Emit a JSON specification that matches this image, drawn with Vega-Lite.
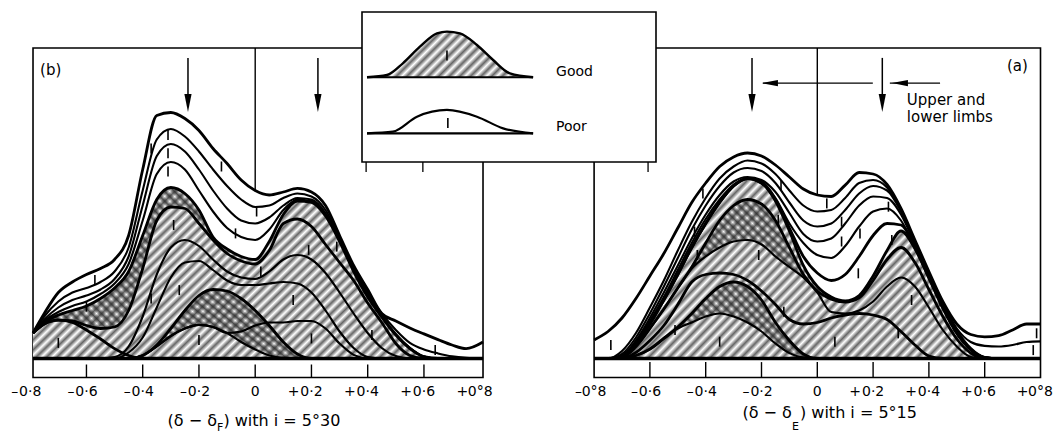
{
"$schema":"https://vega.github.io/schema/vega-lite/v6.json",
"width":1055,"height":435,"autosize":{"type":"none"},"padding":0,"background":"white",
"config":{"view":{"stroke":null},"font":"DejaVu Sans","text":{"font":"DejaVu Sans","color":"black"}},
"resolve":{"scale":{"x":"independent","y":"independent"}},
"datasets":{
"L":[
{"x":-0.79,"T":0.85,"P1":0.85,"P2":0.85,"P3":0.85,"H":0.85,"CB":0.85,"h1":0.85,"M1":0,"M2":0,"h3":0,"h2":0,"R4":0},
{"x":-0.75,"T":1.5,"P1":1.4,"P2":1.3,"P3":1.25,"H":1.2,"CB":1.15,"h1":1.15,"M1":0,"M2":0,"h3":0,"h2":0,"R4":0},
{"x":-0.7,"T":2.2,"P1":1.9,"P2":1.7,"P3":1.55,"H":1.45,"CB":1.28,"h1":1.28,"M1":0,"M2":0,"h3":0,"h2":0,"R4":0},
{"x":-0.65,"T":2.55,"P1":2.2,"P2":1.95,"P3":1.75,"H":1.6,"CB":1.25,"h1":1.2,"M1":0,"M2":0,"h3":0,"h2":0,"R4":0},
{"x":-0.6,"T":2.8,"P1":2.35,"P2":2.1,"P3":1.9,"H":1.75,"CB":1.1,"h1":0.95,"M1":0,"M2":0,"h3":0,"h2":0,"R4":0},
{"x":-0.55,"T":3.0,"P1":2.55,"P2":2.3,"P3":2.15,"H":2.0,"CB":1.0,"h1":0.65,"M1":0,"M2":0,"h3":0,"h2":0,"R4":0},
{"x":-0.5,"T":3.3,"P1":2.9,"P2":2.65,"P3":2.5,"H":2.35,"CB":1.05,"h1":0.33,"M1":0.05,"M2":0,"h3":0,"h2":0,"R4":0},
{"x":-0.45,"T":4.1,"P1":3.7,"P2":3.4,"P3":3.15,"H":2.9,"CB":1.6,"h1":0.1,"M1":0.4,"M2":0.2,"h3":0,"h2":0,"R4":0},
{"x":-0.4,"T":6.3,"P1":5.6,"P2":5.1,"P3":4.6,"H":4.1,"CB":3.0,"h1":0,"M1":1.4,"M2":0.7,"h3":0.1,"h2":0.1,"R4":0.1},
{"x":-0.35,"T":8.1,"P1":7.3,"P2":6.75,"P3":6.15,"H":5.3,"CB":4.6,"h1":0,"M1":2.8,"M2":1.7,"h3":0.45,"h2":0.4,"R4":0.4},
{"x":-0.3,"T":8.2,"P1":7.65,"P2":7.15,"P3":6.55,"H":5.7,"CB":5.05,"h1":0,"M1":3.7,"M2":2.7,"h3":1.0,"h2":0.75,"R4":0.75},
{"x":-0.25,"T":8.0,"P1":7.4,"P2":6.9,"P3":6.3,"H":5.5,"CB":5.0,"h1":0,"M1":3.95,"M2":3.2,"h3":1.6,"h2":1.0,"R4":1.0},
{"x":-0.2,"T":7.6,"P1":6.9,"P2":6.3,"P3":5.6,"H":4.95,"CB":4.5,"h1":0,"M1":3.75,"M2":3.25,"h3":2.1,"h2":1.12,"R4":1.12},
{"x":-0.15,"T":7.0,"P1":6.3,"P2":5.6,"P3":4.9,"H":4.05,"CB":3.95,"h1":0,"M1":3.3,"M2":2.95,"h3":2.3,"h2":1.05,"R4":1.05},
{"x":-0.1,"T":6.5,"P1":5.75,"P2":5.0,"P3":4.35,"H":3.65,"CB":3.5,"h1":0,"M1":2.9,"M2":2.6,"h3":2.25,"h2":0.85,"R4":0.85},
{"x":-0.05,"T":5.95,"P1":5.3,"P2":4.6,"P3":4.05,"H":3.4,"CB":3.25,"h1":0,"M1":2.7,"M2":2.45,"h3":2.0,"h2":0.55,"R4":0.9},
{"x":0,"T":5.6,"P1":5.05,"P2":4.5,"P3":3.95,"H":3.3,"CB":3.15,"h1":0,"M1":2.65,"M2":2.45,"h3":1.6,"h2":0.3,"R4":1.1},
{"x":0.05,"T":5.45,"P1":5.1,"P2":4.7,"P3":4.3,"H":3.9,"CB":3.6,"h1":0,"M1":2.9,"M2":2.5,"h3":1.1,"h2":0.1,"R4":1.2},
{"x":0.1,"T":5.55,"P1":5.35,"P2":5.1,"P3":4.95,"H":4.8,"CB":4.5,"h1":0,"M1":3.3,"M2":2.55,"h3":0.55,"h2":0.02,"R4":1.2},
{"x":0.15,"T":5.67,"P1":5.5,"P2":5.35,"P3":5.3,"H":5.25,"CB":4.65,"h1":0,"M1":3.45,"M2":2.5,"h3":0.15,"h2":0,"R4":1.25},
{"x":0.2,"T":5.55,"P1":5.4,"P2":5.3,"P3":5.25,"H":5.2,"CB":4.4,"h1":0,"M1":3.3,"M2":2.2,"h3":0,"h2":0,"R4":1.25},
{"x":0.25,"T":5.1,"P1":4.95,"P2":4.85,"P3":4.8,"H":4.75,"CB":3.8,"h1":0,"M1":2.85,"M2":1.6,"h3":0,"h2":0,"R4":1.0},
{"x":0.3,"T":4.1,"P1":4.0,"P2":3.95,"P3":3.93,"H":3.9,"CB":3.2,"h1":0,"M1":2.2,"M2":0.9,"h3":0,"h2":0,"R4":0.5},
{"x":0.35,"T":3.1,"P1":3.0,"P2":2.95,"P3":2.95,"H":2.9,"CB":2.6,"h1":0,"M1":1.5,"M2":0.35,"h3":0,"h2":0,"R4":0.12},
{"x":0.4,"T":2.3,"P1":2.2,"P2":2.12,"P3":2.1,"H":2.05,"CB":1.85,"h1":0,"M1":0.85,"M2":0.05,"h3":0,"h2":0,"R4":0},
{"x":0.45,"T":1.5,"P1":1.5,"P2":1.42,"P3":1.4,"H":1.38,"CB":1.2,"h1":0,"M1":0.35,"M2":0,"h3":0,"h2":0,"R4":0},
{"x":0.5,"T":1.25,"P1":0.95,"P2":0.82,"P3":0.8,"H":0.78,"CB":0.5,"h1":0,"M1":0.08,"M2":0,"h3":0,"h2":0,"R4":0},
{"x":0.55,"T":1.02,"P1":0.52,"P2":0.36,"P3":0.35,"H":0.33,"CB":0.1,"h1":0,"M1":0,"M2":0,"h3":0,"h2":0,"R4":0},
{"x":0.6,"T":0.82,"P1":0.3,"P2":0.07,"P3":0.07,"H":0.06,"CB":0,"h1":0,"M1":0,"M2":0,"h3":0,"h2":0,"R4":0},
{"x":0.65,"T":0.63,"P1":0.17,"P2":0,"P3":0,"H":0,"CB":0,"h1":0,"M1":0,"M2":0,"h3":0,"h2":0,"R4":0},
{"x":0.7,"T":0.45,"P1":0.07,"P2":0,"P3":0,"H":0,"CB":0,"h1":0,"M1":0,"M2":0,"h3":0,"h2":0,"R4":0},
{"x":0.75,"T":0.33,"P1":0.02,"P2":0,"P3":0,"H":0,"CB":0,"h1":0,"M1":0,"M2":0,"h3":0,"h2":0,"R4":0},
{"x":0.81,"T":0.55,"P1":0,"P2":0,"P3":0,"H":0,"CB":0,"h1":0,"M1":0,"M2":0,"h3":0,"h2":0,"R4":0}
],
"R":[
{"x":-0.8,"T":0.62,"A2":0,"A3":0,"A4":0,"A5":0,"A6":0,"H":0,"CUt":0,"CUb":0,"M":0,"LCt":0,"LCb":0},
{"x":-0.75,"T":0.9,"A2":0,"A3":0,"A4":0,"A5":0,"A6":0,"H":0,"CUt":0,"CUb":0,"M":0,"LCt":0,"LCb":0},
{"x":-0.7,"T":1.35,"A2":0.25,"A3":0.15,"A4":0.1,"A5":0.07,"A6":0.05,"H":0.05,"CUt":0.03,"CUb":0.03,"M":0,"LCt":0,"LCb":0},
{"x":-0.65,"T":2.0,"A2":0.85,"A3":0.7,"A4":0.6,"A5":0.55,"A6":0.5,"H":0.5,"CUt":0.4,"CUb":0.4,"M":0.2,"LCt":0.1,"LCb":0.1},
{"x":-0.6,"T":2.75,"A2":1.7,"A3":1.5,"A4":1.35,"A5":1.25,"A6":1.15,"H":1.15,"CUt":1.0,"CUb":1.0,"M":0.6,"LCt":0.32,"LCb":0.3},
{"x":-0.55,"T":3.5,"A2":2.6,"A3":2.4,"A4":2.2,"A5":2.05,"A6":1.95,"H":1.95,"CUt":1.65,"CUb":1.65,"M":1.1,"LCt":0.68,"LCb":0.65},
{"x":-0.5,"T":4.35,"A2":3.6,"A3":3.35,"A4":3.1,"A5":2.95,"A6":2.8,"H":2.8,"CUt":2.35,"CUb":2.35,"M":1.8,"LCt":1.05,"LCb":1.0},
{"x":-0.45,"T":5.2,"A2":4.55,"A3":4.3,"A4":4.0,"A5":3.85,"A6":3.7,"H":3.7,"CUt":3.05,"CUb":3.0,"M":2.55,"LCt":1.5,"LCb":1.2},
{"x":-0.4,"T":5.85,"A2":5.35,"A3":5.1,"A4":4.8,"A5":4.65,"A6":4.5,"H":4.5,"CUt":3.85,"CUb":3.4,"M":2.8,"LCt":2.0,"LCb":1.4},
{"x":-0.35,"T":6.4,"A2":6.0,"A3":5.75,"A4":5.45,"A5":5.3,"A6":5.2,"H":5.2,"CUt":4.6,"CUb":3.7,"M":2.85,"LCt":2.4,"LCb":1.5},
{"x":-0.3,"T":6.72,"A2":6.4,"A3":6.2,"A4":5.9,"A5":5.8,"A6":5.75,"H":5.75,"CUt":5.1,"CUb":3.9,"M":2.8,"LCt":2.55,"LCb":1.4},
{"x":-0.25,"T":6.85,"A2":6.6,"A3":6.35,"A4":6.05,"A5":6.0,"A6":6.0,"H":6.0,"CUt":5.3,"CUb":3.95,"M":2.6,"LCt":2.4,"LCb":1.2},
{"x":-0.2,"T":6.75,"A2":6.5,"A3":6.25,"A4":5.95,"A5":5.9,"A6":5.85,"H":5.85,"CUt":5.15,"CUb":3.8,"M":2.25,"LCt":1.95,"LCb":0.9},
{"x":-0.15,"T":6.45,"A2":6.15,"A3":5.85,"A4":5.55,"A5":5.35,"A6":5.3,"H":5.25,"CUt":4.6,"CUb":3.4,"M":1.8,"LCt":1.2,"LCb":0.5},
{"x":-0.1,"T":6.05,"A2":5.6,"A3":5.2,"A4":4.85,"A5":4.5,"A6":4.35,"H":4.25,"CUt":3.7,"CUb":3.05,"M":1.3,"LCt":0.6,"LCb":0.18},
{"x":-0.05,"T":5.65,"A2":5.1,"A3":4.6,"A4":4.15,"A5":3.85,"A6":3.4,"H":3.1,"CUt":2.8,"CUb":2.7,"M":1.15,"LCt":0.15,"LCb":0.03},
{"x":0,"T":5.45,"A2":4.9,"A3":4.4,"A4":3.9,"A5":3.45,"A6":2.85,"H":2.4,"CUt":2.25,"CUb":2.2,"M":1.2,"LCt":0,"LCb":0},
{"x":0.05,"T":5.4,"A2":4.95,"A3":4.5,"A4":4.0,"A5":3.35,"A6":2.6,"H":2.05,"CUt":1.98,"CUb":1.55,"M":1.35,"LCt":0,"LCb":0},
{"x":0.1,"T":5.78,"A2":5.35,"A3":4.95,"A4":4.5,"A5":3.75,"A6":2.8,"H":1.92,"CUt":1.88,"CUb":1.5,"M":1.45,"LCt":0,"LCb":0},
{"x":0.15,"T":6.2,"A2":5.85,"A3":5.5,"A4":5.1,"A5":4.4,"A6":3.4,"H":2.1,"CUt":2.02,"CUb":1.6,"M":1.5,"LCt":0,"LCb":0},
{"x":0.2,"T":6.15,"A2":5.95,"A3":5.75,"A4":5.4,"A5":4.9,"A6":4.1,"H":2.75,"CUt":2.6,"CUb":1.9,"M":1.45,"LCt":0,"LCb":0},
{"x":0.25,"T":5.8,"A2":5.7,"A3":5.6,"A4":5.35,"A5":5.0,"A6":4.5,"H":3.6,"CUt":3.3,"CUb":2.4,"M":1.3,"LCt":0,"LCb":0},
{"x":0.3,"T":5.0,"A2":4.95,"A3":4.9,"A4":4.8,"A5":4.6,"A6":4.45,"H":4.25,"CUt":3.7,"CUb":2.7,"M":0.9,"LCt":0,"LCb":0},
{"x":0.35,"T":3.95,"A2":3.9,"A3":3.85,"A4":3.8,"A5":3.72,"A6":3.7,"H":3.66,"CUt":3.2,"CUb":2.4,"M":0.45,"LCt":0,"LCb":0},
{"x":0.4,"T":2.9,"A2":2.85,"A3":2.8,"A4":2.75,"A5":2.72,"A6":2.7,"H":2.68,"CUt":2.3,"CUb":1.7,"M":0.08,"LCt":0,"LCb":0},
{"x":0.45,"T":1.9,"A2":1.85,"A3":1.8,"A4":1.75,"A5":1.72,"A6":1.7,"H":1.68,"CUt":1.4,"CUb":0.95,"M":0,"LCt":0,"LCb":0},
{"x":0.5,"T":1.15,"A2":1.0,"A3":0.95,"A4":0.9,"A5":0.87,"A6":0.85,"H":0.84,"CUt":0.65,"CUb":0.4,"M":0,"LCt":0,"LCb":0},
{"x":0.55,"T":0.8,"A2":0.55,"A3":0.35,"A4":0.32,"A5":0.3,"A6":0.3,"H":0.29,"CUt":0.18,"CUb":0.05,"M":0,"LCt":0,"LCb":0},
{"x":0.6,"T":0.72,"A2":0.42,"A3":0.05,"A4":0.04,"A5":0.03,"A6":0.03,"H":0.03,"CUt":0,"CUb":0,"M":0,"LCt":0,"LCb":0},
{"x":0.65,"T":0.76,"A2":0.4,"A3":0,"A4":0,"A5":0,"A6":0,"H":0,"CUt":0,"CUb":0,"M":0,"LCt":0,"LCb":0},
{"x":0.7,"T":0.95,"A2":0.45,"A3":0,"A4":0,"A5":0,"A6":0,"H":0,"CUt":0,"CUb":0,"M":0,"LCt":0,"LCb":0},
{"x":0.75,"T":1.15,"A2":0.55,"A3":0,"A4":0,"A5":0,"A6":0,"H":0,"CUt":0,"CUb":0,"M":0,"LCt":0,"LCb":0},
{"x":0.8,"T":1.15,"A2":0.57,"A3":0,"A4":0,"A5":0,"A6":0,"H":0,"CUt":0,"CUb":0,"M":0,"LCt":0,"LCb":0}
],
"LM":[{"x":-0.7,"u":0.52},{"x":-0.6,"u":1.73},{"x":-0.57,"u":2.62},{"x":-0.37,"u":7.0},{"x":-0.31,"u":7.45},{"x":-0.31,"u":6.84},{"x":-0.31,"u":6.23},{"x":-0.29,"u":4.45},{"x":-0.37,"u":2.0},{"x":-0.27,"u":2.28},{"x":-0.2,"u":0.62},{"x":-0.12,"u":6.4},{"x":-0.07,"u":4.17},{"x":0.005,"u":4.9},{"x":0.02,"u":2.9},{"x":0.135,"u":1.95},{"x":0.19,"u":3.62},{"x":0.29,"u":3.73},{"x":0.2,"u":0.67},{"x":0.415,"u":0.78},{"x":0.64,"u":0.28}],
"RM":[{"x":-0.74,"u":0.45},{"x":-0.41,"u":5.5},{"x":-0.44,"u":4.23},{"x":-0.43,"u":3.45},{"x":-0.13,"u":5.78},{"x":-0.14,"u":4.62},{"x":-0.21,"u":3.45},{"x":-0.12,"u":1.56},{"x":-0.51,"u":0.95},{"x":-0.35,"u":0.56},{"x":0.034,"u":5.17},{"x":0.087,"u":4.56},{"x":0.153,"u":4.17},{"x":0.087,"u":3.9},{"x":0.147,"u":2.84},{"x":0.255,"u":5.06},{"x":0.267,"u":3.95},{"x":0.338,"u":1.95},{"x":0.44,"u":1.9},{"x":0.29,"u":0.84},{"x":0.063,"u":0.56},{"x":0.786,"u":0.84},{"x":0.774,"u":0.28}],
"TK":[{"x":-0.6},{"x":-0.4},{"x":-0.2},{"x":0},{"x":0.2},{"x":0.4},{"x":0.6}],
"LLab":[{"x":-0.8,"d":"0·8","s":"–"},{"x":-0.6,"d":"0·6","s":"–"},{"x":-0.4,"d":"0·4","s":"–"},{"x":-0.2,"d":"0·2","s":"–"},{"x":0,"d":"0","s":""},{"x":0.2,"d":"0·2","s":"+"},{"x":0.4,"d":"0·4","s":"+"},{"x":0.6,"d":"0·6","s":"+"},{"x":0.8,"d":"0°8","s":"+"}],
"RLab":[{"x":-0.8,"d":"0°8","s":"–"},{"x":-0.6,"d":"0·6","s":"–"},{"x":-0.4,"d":"0·4","s":"–"},{"x":-0.2,"d":"0·2","s":"–"},{"x":0,"d":"0","s":""},{"x":0.2,"d":"0·2","s":"+"},{"x":0.4,"d":"0·4","s":"+"},{"x":0.6,"d":"0·6","s":"+"},{"x":0.8,"d":"0°8","s":"+"}],
"good":[{"x":0.017,"y":0.565},{"x":0.085,"y":0.58},{"x":0.139,"y":0.658},{"x":0.197,"y":0.769},{"x":0.255,"y":0.858},{"x":0.289,"y":0.869},{"x":0.333,"y":0.858},{"x":0.391,"y":0.78},{"x":0.446,"y":0.68},{"x":0.503,"y":0.591},{"x":0.582,"y":0.565}],
"poor":[{"x":0.017,"y":0.191},{"x":0.105,"y":0.202},{"x":0.187,"y":0.302},{"x":0.289,"y":0.347},{"x":0.391,"y":0.302},{"x":0.48,"y":0.224},{"x":0.582,"y":0.191}]
},
"layer":[
{"data":{"values":[{"x":-0.79,"x2":0.81,"y":-0.633,"y2":10.35}]},"mark":{"type":"rect","filled":false,"stroke":"black","strokeWidth":1.6},
 "encoding":{"x":{"field":"x","type":"quantitative","scale":{"domain":[-0.8,0.8],"range":[30.2,480.2],"nice":false,"zero":false},"axis":null},"x2":{"field":"x2"},
 "y":{"field":"y","type":"quantitative","scale":{"domain":[0,10],"range":[358.5,58.5],"nice":false,"zero":false},"axis":null},"y2":{"field":"y2"}}},
{"data":{"name":"L"},"mark":{"type":"area","interpolate":"monotone","color":{"gradient":"linear","x1":0,"y1":0,"x2":1.206,"y2":0.47,"stops":[
{"offset":0,"color":"#666"},{"offset":0.0083,"color":"#fff"},{"offset":0.0167,"color":"#666"},{"offset":0.025,"color":"#fff"},{"offset":0.0333,"color":"#666"},{"offset":0.0417,"color":"#fff"},{"offset":0.05,"color":"#666"},{"offset":0.0583,"color":"#fff"},{"offset":0.0667,"color":"#666"},{"offset":0.075,"color":"#fff"},{"offset":0.0833,"color":"#666"},{"offset":0.0917,"color":"#fff"},
{"offset":0.1,"color":"#666"},{"offset":0.1083,"color":"#fff"},{"offset":0.1167,"color":"#666"},{"offset":0.125,"color":"#fff"},{"offset":0.1333,"color":"#666"},{"offset":0.1417,"color":"#fff"},{"offset":0.15,"color":"#666"},{"offset":0.1583,"color":"#fff"},{"offset":0.1667,"color":"#666"},{"offset":0.175,"color":"#fff"},{"offset":0.1833,"color":"#666"},{"offset":0.1917,"color":"#fff"},
{"offset":0.2,"color":"#666"},{"offset":0.2083,"color":"#fff"},{"offset":0.2167,"color":"#666"},{"offset":0.225,"color":"#fff"},{"offset":0.2333,"color":"#666"},{"offset":0.2417,"color":"#fff"},{"offset":0.25,"color":"#666"},{"offset":0.2583,"color":"#fff"},{"offset":0.2667,"color":"#666"},{"offset":0.275,"color":"#fff"},{"offset":0.2833,"color":"#666"},{"offset":0.2917,"color":"#fff"},
{"offset":0.3,"color":"#666"},{"offset":0.3083,"color":"#fff"},{"offset":0.3167,"color":"#666"},{"offset":0.325,"color":"#fff"},{"offset":0.3333,"color":"#666"},{"offset":0.3417,"color":"#fff"},{"offset":0.35,"color":"#666"},{"offset":0.3583,"color":"#fff"},{"offset":0.3667,"color":"#666"},{"offset":0.375,"color":"#fff"},{"offset":0.3833,"color":"#666"},{"offset":0.3917,"color":"#fff"},
{"offset":0.4,"color":"#666"},{"offset":0.4083,"color":"#fff"},{"offset":0.4167,"color":"#666"},{"offset":0.425,"color":"#fff"},{"offset":0.4333,"color":"#666"},{"offset":0.4417,"color":"#fff"},{"offset":0.45,"color":"#666"},{"offset":0.4583,"color":"#fff"},{"offset":0.4667,"color":"#666"},{"offset":0.475,"color":"#fff"},{"offset":0.4833,"color":"#666"},{"offset":0.4917,"color":"#fff"},
{"offset":0.5,"color":"#666"},{"offset":0.5083,"color":"#fff"},{"offset":0.5167,"color":"#666"},{"offset":0.525,"color":"#fff"},{"offset":0.5333,"color":"#666"},{"offset":0.5417,"color":"#fff"},{"offset":0.55,"color":"#666"},{"offset":0.5583,"color":"#fff"},{"offset":0.5667,"color":"#666"},{"offset":0.575,"color":"#fff"},{"offset":0.5833,"color":"#666"},{"offset":0.5917,"color":"#fff"},
{"offset":0.6,"color":"#666"},{"offset":0.6083,"color":"#fff"},{"offset":0.6167,"color":"#666"},{"offset":0.625,"color":"#fff"},{"offset":0.6333,"color":"#666"},{"offset":0.6417,"color":"#fff"},{"offset":0.65,"color":"#666"},{"offset":0.6583,"color":"#fff"},{"offset":0.6667,"color":"#666"},{"offset":0.675,"color":"#fff"},{"offset":0.6833,"color":"#666"},{"offset":0.6917,"color":"#fff"},
{"offset":0.7,"color":"#666"},{"offset":0.7083,"color":"#fff"},{"offset":0.7167,"color":"#666"},{"offset":0.725,"color":"#fff"},{"offset":0.7333,"color":"#666"},{"offset":0.7417,"color":"#fff"},{"offset":0.75,"color":"#666"},{"offset":0.7583,"color":"#fff"},{"offset":0.7667,"color":"#666"},{"offset":0.775,"color":"#fff"},{"offset":0.7833,"color":"#666"},{"offset":0.7917,"color":"#fff"},
{"offset":0.8,"color":"#666"},{"offset":0.8083,"color":"#fff"},{"offset":0.8167,"color":"#666"},{"offset":0.825,"color":"#fff"},{"offset":0.8333,"color":"#666"},{"offset":0.8417,"color":"#fff"},{"offset":0.85,"color":"#666"},{"offset":0.8583,"color":"#fff"},{"offset":0.8667,"color":"#666"},{"offset":0.875,"color":"#fff"},{"offset":0.8833,"color":"#666"},{"offset":0.8917,"color":"#fff"},
{"offset":0.9,"color":"#666"},{"offset":0.9083,"color":"#fff"},{"offset":0.9167,"color":"#666"},{"offset":0.925,"color":"#fff"},{"offset":0.9333,"color":"#666"},{"offset":0.9417,"color":"#fff"},{"offset":0.95,"color":"#666"},{"offset":0.9583,"color":"#fff"},{"offset":0.9667,"color":"#666"},{"offset":0.975,"color":"#fff"},{"offset":0.9833,"color":"#666"},{"offset":0.9917,"color":"#fff"},
{"offset":1,"color":"#666"}]}},
 "encoding":{"x":{"field":"x","type":"quantitative","scale":{"domain":[-0.8,0.8],"range":[30.2,480.2],"nice":false,"zero":false},"axis":null},
 "y":{"field":"H","type":"quantitative","scale":{"domain":[0,10],"range":[358.5,58.5],"nice":false,"zero":false},"axis":null},"y2":{"datum":0}}},
{"data":{"name":"L"},"transform":[{"filter":"datum.x <= -0.14"}],"mark":{"type":"area","interpolate":"monotone","color":{"gradient":"linear","x1":0,"y1":1,"x2":1.094,"y2":0.118,"stops":[
{"offset":0,"color":"rgba(40,40,40,0.8)"},{"offset":0.015,"color":"rgba(40,40,40,0)"},{"offset":0.03,"color":"rgba(40,40,40,0.8)"},{"offset":0.045,"color":"rgba(40,40,40,0)"},{"offset":0.06,"color":"rgba(40,40,40,0.8)"},{"offset":0.075,"color":"rgba(40,40,40,0)"},{"offset":0.09,"color":"rgba(40,40,40,0.8)"},{"offset":0.105,"color":"rgba(40,40,40,0)"},{"offset":0.12,"color":"rgba(40,40,40,0.8)"},{"offset":0.135,"color":"rgba(40,40,40,0)"},
{"offset":0.15,"color":"rgba(40,40,40,0.8)"},{"offset":0.165,"color":"rgba(40,40,40,0)"},{"offset":0.18,"color":"rgba(40,40,40,0.8)"},{"offset":0.195,"color":"rgba(40,40,40,0)"},{"offset":0.21,"color":"rgba(40,40,40,0.8)"},{"offset":0.225,"color":"rgba(40,40,40,0)"},{"offset":0.24,"color":"rgba(40,40,40,0.8)"},{"offset":0.255,"color":"rgba(40,40,40,0)"},{"offset":0.27,"color":"rgba(40,40,40,0.8)"},{"offset":0.285,"color":"rgba(40,40,40,0)"},
{"offset":0.3,"color":"rgba(40,40,40,0.8)"},{"offset":0.315,"color":"rgba(40,40,40,0)"},{"offset":0.33,"color":"rgba(40,40,40,0.8)"},{"offset":0.345,"color":"rgba(40,40,40,0)"},{"offset":0.36,"color":"rgba(40,40,40,0.8)"},{"offset":0.375,"color":"rgba(40,40,40,0)"},{"offset":0.39,"color":"rgba(40,40,40,0.8)"},{"offset":0.405,"color":"rgba(40,40,40,0)"},{"offset":0.42,"color":"rgba(40,40,40,0.8)"},{"offset":0.435,"color":"rgba(40,40,40,0)"},
{"offset":0.45,"color":"rgba(40,40,40,0.8)"},{"offset":0.465,"color":"rgba(40,40,40,0)"},{"offset":0.48,"color":"rgba(40,40,40,0.8)"},{"offset":0.495,"color":"rgba(40,40,40,0)"},{"offset":0.51,"color":"rgba(40,40,40,0.8)"},{"offset":0.525,"color":"rgba(40,40,40,0)"},{"offset":0.54,"color":"rgba(40,40,40,0.8)"},{"offset":0.555,"color":"rgba(40,40,40,0)"},{"offset":0.57,"color":"rgba(40,40,40,0.8)"},{"offset":0.585,"color":"rgba(40,40,40,0)"},
{"offset":0.6,"color":"rgba(40,40,40,0.8)"},{"offset":0.615,"color":"rgba(40,40,40,0)"},{"offset":0.63,"color":"rgba(40,40,40,0.8)"},{"offset":0.645,"color":"rgba(40,40,40,0)"},{"offset":0.66,"color":"rgba(40,40,40,0.8)"},{"offset":0.675,"color":"rgba(40,40,40,0)"},{"offset":0.69,"color":"rgba(40,40,40,0.8)"},{"offset":0.705,"color":"rgba(40,40,40,0)"},{"offset":0.72,"color":"rgba(40,40,40,0.8)"},{"offset":0.735,"color":"rgba(40,40,40,0)"},
{"offset":0.75,"color":"rgba(40,40,40,0.8)"},{"offset":0.765,"color":"rgba(40,40,40,0)"},{"offset":0.78,"color":"rgba(40,40,40,0.8)"},{"offset":0.795,"color":"rgba(40,40,40,0)"},{"offset":0.81,"color":"rgba(40,40,40,0.8)"},{"offset":0.825,"color":"rgba(40,40,40,0)"},{"offset":0.84,"color":"rgba(40,40,40,0.8)"},{"offset":0.855,"color":"rgba(40,40,40,0)"},{"offset":0.87,"color":"rgba(40,40,40,0.8)"},{"offset":0.885,"color":"rgba(40,40,40,0)"},
{"offset":0.9,"color":"rgba(40,40,40,0.8)"},{"offset":0.915,"color":"rgba(40,40,40,0)"},{"offset":0.93,"color":"rgba(40,40,40,0.8)"},{"offset":0.945,"color":"rgba(40,40,40,0)"},{"offset":0.96,"color":"rgba(40,40,40,0.8)"},{"offset":0.975,"color":"rgba(40,40,40,0)"},{"offset":0.99,"color":"rgba(40,40,40,0.8)"},{"offset":1,"color":"rgba(40,40,40,0)"}]}},
 "encoding":{"x":{"field":"x","type":"quantitative","scale":{"domain":[-0.8,0.8],"range":[30.2,480.2],"nice":false,"zero":false},"axis":null},
 "y":{"field":"H","type":"quantitative","scale":{"domain":[0,10],"range":[358.5,58.5],"nice":false,"zero":false},"axis":null},"y2":{"field":"CB"}}},
{"data":{"name":"L"},"transform":[{"filter":"datum.x >= -0.46 && datum.x <= 0.21"}],"mark":{"type":"area","interpolate":"monotone","color":{"gradient":"linear","x1":0,"y1":1,"x2":1.19,"y2":0.45,"stops":[
{"offset":0,"color":"rgba(40,40,40,0.8)"},{"offset":0.02,"color":"rgba(40,40,40,0)"},{"offset":0.04,"color":"rgba(40,40,40,0.8)"},{"offset":0.06,"color":"rgba(40,40,40,0)"},{"offset":0.08,"color":"rgba(40,40,40,0.8)"},{"offset":0.1,"color":"rgba(40,40,40,0)"},{"offset":0.12,"color":"rgba(40,40,40,0.8)"},{"offset":0.14,"color":"rgba(40,40,40,0)"},{"offset":0.16,"color":"rgba(40,40,40,0.8)"},{"offset":0.18,"color":"rgba(40,40,40,0)"},
{"offset":0.2,"color":"rgba(40,40,40,0.8)"},{"offset":0.22,"color":"rgba(40,40,40,0)"},{"offset":0.24,"color":"rgba(40,40,40,0.8)"},{"offset":0.26,"color":"rgba(40,40,40,0)"},{"offset":0.28,"color":"rgba(40,40,40,0.8)"},{"offset":0.3,"color":"rgba(40,40,40,0)"},{"offset":0.32,"color":"rgba(40,40,40,0.8)"},{"offset":0.34,"color":"rgba(40,40,40,0)"},{"offset":0.36,"color":"rgba(40,40,40,0.8)"},{"offset":0.38,"color":"rgba(40,40,40,0)"},
{"offset":0.4,"color":"rgba(40,40,40,0.8)"},{"offset":0.42,"color":"rgba(40,40,40,0)"},{"offset":0.44,"color":"rgba(40,40,40,0.8)"},{"offset":0.46,"color":"rgba(40,40,40,0)"},{"offset":0.48,"color":"rgba(40,40,40,0.8)"},{"offset":0.5,"color":"rgba(40,40,40,0)"},{"offset":0.52,"color":"rgba(40,40,40,0.8)"},{"offset":0.54,"color":"rgba(40,40,40,0)"},{"offset":0.56,"color":"rgba(40,40,40,0.8)"},{"offset":0.58,"color":"rgba(40,40,40,0)"},
{"offset":0.6,"color":"rgba(40,40,40,0.8)"},{"offset":0.62,"color":"rgba(40,40,40,0)"},{"offset":0.64,"color":"rgba(40,40,40,0.8)"},{"offset":0.66,"color":"rgba(40,40,40,0)"},{"offset":0.68,"color":"rgba(40,40,40,0.8)"},{"offset":0.7,"color":"rgba(40,40,40,0)"},{"offset":0.72,"color":"rgba(40,40,40,0.8)"},{"offset":0.74,"color":"rgba(40,40,40,0)"},{"offset":0.76,"color":"rgba(40,40,40,0.8)"},{"offset":0.78,"color":"rgba(40,40,40,0)"},
{"offset":0.8,"color":"rgba(40,40,40,0.8)"},{"offset":0.82,"color":"rgba(40,40,40,0)"},{"offset":0.84,"color":"rgba(40,40,40,0.8)"},{"offset":0.86,"color":"rgba(40,40,40,0)"},{"offset":0.88,"color":"rgba(40,40,40,0.8)"},{"offset":0.9,"color":"rgba(40,40,40,0)"},{"offset":0.92,"color":"rgba(40,40,40,0.8)"},{"offset":0.94,"color":"rgba(40,40,40,0)"},{"offset":0.96,"color":"rgba(40,40,40,0.8)"},{"offset":0.98,"color":"rgba(40,40,40,0)"},
{"offset":1,"color":"rgba(40,40,40,0.8)"}]}},
 "encoding":{"x":{"field":"x","type":"quantitative","scale":{"domain":[-0.8,0.8],"range":[30.2,480.2],"nice":false,"zero":false},"axis":null},
 "y":{"field":"h3","type":"quantitative","scale":{"domain":[0,10],"range":[358.5,58.5],"nice":false,"zero":false},"axis":null},"y2":{"field":"h2"}}},
{"data":{"name":"L"},"transform":[{"fold":["T","H","CB","h1","h3"],"as":["curve","u"]}],"mark":{"type":"line","interpolate":"monotone","color":"black","strokeWidth":2.8,"strokeJoin":"round"},
 "encoding":{"x":{"field":"x","type":"quantitative","scale":{"domain":[-0.8,0.8],"range":[30.2,480.2],"nice":false,"zero":false},"axis":null},
 "y":{"field":"u","type":"quantitative","scale":{"domain":[0,10],"range":[358.5,58.5],"nice":false,"zero":false},"axis":null},"detail":{"field":"curve"}}},
{"data":{"name":"L"},"transform":[{"fold":["P1","P2","P3","M1","M2","h2","R4"],"as":["curve","u"]}],"mark":{"type":"line","interpolate":"monotone","color":"black","strokeWidth":2.1,"strokeJoin":"round"},
 "encoding":{"x":{"field":"x","type":"quantitative","scale":{"domain":[-0.8,0.8],"range":[30.2,480.2],"nice":false,"zero":false},"axis":null},
 "y":{"field":"u","type":"quantitative","scale":{"domain":[0,10],"range":[358.5,58.5],"nice":false,"zero":false},"axis":null},"detail":{"field":"curve"}}},
{"data":{"values":[{"x":-0.79,"x2":0.81,"y":0}]},"mark":{"type":"rule","color":"black","strokeWidth":3.5},
 "encoding":{"x":{"field":"x","type":"quantitative","scale":{"domain":[-0.8,0.8],"range":[30.2,480.2],"nice":false,"zero":false},"axis":null},"x2":{"field":"x2"},
 "y":{"field":"y","type":"quantitative","scale":{"domain":[0,10],"range":[358.5,58.5],"nice":false,"zero":false},"axis":null}}},
{"data":{"name":"TK"},"mark":{"type":"rule","color":"black","strokeWidth":1.4},
 "encoding":{"x":{"field":"x","type":"quantitative","scale":{"domain":[-0.8,0.8],"range":[30.2,480.2],"nice":false,"zero":false},"axis":null},
 "y":{"datum":-0.633,"type":"quantitative","scale":{"domain":[0,10],"range":[358.5,58.5],"nice":false,"zero":false},"axis":null},"y2":{"datum":-0.2}}},
{"data":{"values":[{"x":0,"y":5.6,"y2":10.35}]},"mark":{"type":"rule","color":"black","strokeWidth":1.4},
 "encoding":{"x":{"field":"x","type":"quantitative","scale":{"domain":[-0.8,0.8],"range":[30.2,480.2],"nice":false,"zero":false},"axis":null},
 "y":{"field":"y","type":"quantitative","scale":{"domain":[0,10],"range":[358.5,58.5],"nice":false,"zero":false},"axis":null},"y2":{"field":"y2"}}},
{"data":{"name":"LM"},"mark":{"type":"tick","orient":"vertical","size":10,"thickness":1.6,"color":"black","opacity":1},
 "encoding":{"x":{"field":"x","type":"quantitative","scale":{"domain":[-0.8,0.8],"range":[30.2,480.2],"nice":false,"zero":false},"axis":null},
 "y":{"field":"u","type":"quantitative","scale":{"domain":[0,10],"range":[358.5,58.5],"nice":false,"zero":false},"axis":null}}},
{"data":{"values":[{"x":-0.239},{"x":0.223}]},"mark":{"type":"rule","color":"black","strokeWidth":1.5},
 "encoding":{"x":{"field":"x","type":"quantitative","scale":{"domain":[-0.8,0.8],"range":[30.2,480.2],"nice":false,"zero":false},"axis":null},
 "y":{"datum":8.6,"type":"quantitative","scale":{"domain":[0,10],"range":[358.5,58.5],"nice":false,"zero":false},"axis":null},"y2":{"datum":10.02}}},
{"data":{"values":[{"x":-0.239},{"x":0.223}]},"mark":{"type":"point","shape":"M-0.4,-1L0.4,-1L0,1Z","size":324,"filled":true,"color":"black","opacity":1,"strokeWidth":0},
 "encoding":{"x":{"field":"x","type":"quantitative","scale":{"domain":[-0.8,0.8],"range":[30.2,480.2],"nice":false,"zero":false},"axis":null},
 "y":{"datum":8.52,"type":"quantitative","scale":{"domain":[0,10],"range":[358.5,58.5],"nice":false,"zero":false},"axis":null}}},
{"data":{"name":"LLab"},"mark":{"type":"text","fontSize":14,"align":"center","baseline":"alphabetic"},
 "encoding":{"x":{"field":"x","type":"quantitative","scale":{"domain":[-0.8,0.8],"range":[30.2,480.2],"nice":false,"zero":false},"axis":null},
 "y":{"datum":-1.25,"type":"quantitative","scale":{"domain":[0,10],"range":[358.5,58.5],"nice":false,"zero":false},"axis":null},"text":{"field":"d"}}},
{"data":{"name":"LLab"},"transform":[{"filter":"datum.s != ''"}],"mark":{"type":"text","fontSize":14,"align":"right","baseline":"alphabetic","dx":-12},
 "encoding":{"x":{"field":"x","type":"quantitative","scale":{"domain":[-0.8,0.8],"range":[30.2,480.2],"nice":false,"zero":false},"axis":null},
 "y":{"datum":-1.25,"type":"quantitative","scale":{"domain":[0,10],"range":[358.5,58.5],"nice":false,"zero":false},"axis":null},"text":{"field":"s"}}},
{"data":{"values":[{"x":-0.136,"t":"(δ − δ"}]},"mark":{"type":"text","fontSize":16,"align":"right","baseline":"alphabetic"},
 "encoding":{"x":{"field":"x","type":"quantitative","scale":{"domain":[-0.8,0.8],"range":[30.2,480.2],"nice":false,"zero":false},"axis":null},
 "y":{"datum":-2.25,"type":"quantitative","scale":{"domain":[0,10],"range":[358.5,58.5],"nice":false,"zero":false},"axis":null},"text":{"field":"t"}}},
{"data":{"values":[{"x":-0.136,"t":"F"}]},"mark":{"type":"text","fontSize":11,"align":"left","baseline":"alphabetic"},
 "encoding":{"x":{"field":"x","type":"quantitative","scale":{"domain":[-0.8,0.8],"range":[30.2,480.2],"nice":false,"zero":false},"axis":null},
 "y":{"datum":-2.42,"type":"quantitative","scale":{"domain":[0,10],"range":[358.5,58.5],"nice":false,"zero":false},"axis":null},"text":{"field":"t"}}},
{"data":{"values":[{"x":-0.113,"t":") with  i = 5°30"}]},"mark":{"type":"text","fontSize":16,"align":"left","baseline":"alphabetic"},
 "encoding":{"x":{"field":"x","type":"quantitative","scale":{"domain":[-0.8,0.8],"range":[30.2,480.2],"nice":false,"zero":false},"axis":null},
 "y":{"datum":-2.25,"type":"quantitative","scale":{"domain":[0,10],"range":[358.5,58.5],"nice":false,"zero":false},"axis":null},"text":{"field":"t"}}},
{"data":{"values":[{"x":-0.765,"t":"(b)"}]},"mark":{"type":"text","fontSize":15,"align":"left","baseline":"middle"},
 "encoding":{"x":{"field":"x","type":"quantitative","scale":{"domain":[-0.8,0.8],"range":[30.2,480.2],"nice":false,"zero":false},"axis":null},
 "y":{"datum":9.62,"type":"quantitative","scale":{"domain":[0,10],"range":[358.5,58.5],"nice":false,"zero":false},"axis":null},"text":{"field":"t"}}},

{"data":{"values":[{"x":-0.8,"x2":0.8,"y":-0.633,"y2":10.35}]},"mark":{"type":"rect","filled":false,"stroke":"black","strokeWidth":1.6},
 "encoding":{"x":{"field":"x","type":"quantitative","scale":{"domain":[-0.8,0.8],"range":[594.1,1040.5],"nice":false,"zero":false},"axis":null},"x2":{"field":"x2"},
 "y":{"field":"y","type":"quantitative","scale":{"domain":[0,10],"range":[358.5,58.5],"nice":false,"zero":false},"axis":null},"y2":{"field":"y2"}}},
{"data":{"name":"R"},"mark":{"type":"area","interpolate":"monotone","color":{"gradient":"linear","x1":0,"y1":0,"x2":1.206,"y2":0.47,"stops":[
{"offset":0,"color":"#666"},{"offset":0.0083,"color":"#fff"},{"offset":0.0167,"color":"#666"},{"offset":0.025,"color":"#fff"},{"offset":0.0333,"color":"#666"},{"offset":0.0417,"color":"#fff"},{"offset":0.05,"color":"#666"},{"offset":0.0583,"color":"#fff"},{"offset":0.0667,"color":"#666"},{"offset":0.075,"color":"#fff"},{"offset":0.0833,"color":"#666"},{"offset":0.0917,"color":"#fff"},
{"offset":0.1,"color":"#666"},{"offset":0.1083,"color":"#fff"},{"offset":0.1167,"color":"#666"},{"offset":0.125,"color":"#fff"},{"offset":0.1333,"color":"#666"},{"offset":0.1417,"color":"#fff"},{"offset":0.15,"color":"#666"},{"offset":0.1583,"color":"#fff"},{"offset":0.1667,"color":"#666"},{"offset":0.175,"color":"#fff"},{"offset":0.1833,"color":"#666"},{"offset":0.1917,"color":"#fff"},
{"offset":0.2,"color":"#666"},{"offset":0.2083,"color":"#fff"},{"offset":0.2167,"color":"#666"},{"offset":0.225,"color":"#fff"},{"offset":0.2333,"color":"#666"},{"offset":0.2417,"color":"#fff"},{"offset":0.25,"color":"#666"},{"offset":0.2583,"color":"#fff"},{"offset":0.2667,"color":"#666"},{"offset":0.275,"color":"#fff"},{"offset":0.2833,"color":"#666"},{"offset":0.2917,"color":"#fff"},
{"offset":0.3,"color":"#666"},{"offset":0.3083,"color":"#fff"},{"offset":0.3167,"color":"#666"},{"offset":0.325,"color":"#fff"},{"offset":0.3333,"color":"#666"},{"offset":0.3417,"color":"#fff"},{"offset":0.35,"color":"#666"},{"offset":0.3583,"color":"#fff"},{"offset":0.3667,"color":"#666"},{"offset":0.375,"color":"#fff"},{"offset":0.3833,"color":"#666"},{"offset":0.3917,"color":"#fff"},
{"offset":0.4,"color":"#666"},{"offset":0.4083,"color":"#fff"},{"offset":0.4167,"color":"#666"},{"offset":0.425,"color":"#fff"},{"offset":0.4333,"color":"#666"},{"offset":0.4417,"color":"#fff"},{"offset":0.45,"color":"#666"},{"offset":0.4583,"color":"#fff"},{"offset":0.4667,"color":"#666"},{"offset":0.475,"color":"#fff"},{"offset":0.4833,"color":"#666"},{"offset":0.4917,"color":"#fff"},
{"offset":0.5,"color":"#666"},{"offset":0.5083,"color":"#fff"},{"offset":0.5167,"color":"#666"},{"offset":0.525,"color":"#fff"},{"offset":0.5333,"color":"#666"},{"offset":0.5417,"color":"#fff"},{"offset":0.55,"color":"#666"},{"offset":0.5583,"color":"#fff"},{"offset":0.5667,"color":"#666"},{"offset":0.575,"color":"#fff"},{"offset":0.5833,"color":"#666"},{"offset":0.5917,"color":"#fff"},
{"offset":0.6,"color":"#666"},{"offset":0.6083,"color":"#fff"},{"offset":0.6167,"color":"#666"},{"offset":0.625,"color":"#fff"},{"offset":0.6333,"color":"#666"},{"offset":0.6417,"color":"#fff"},{"offset":0.65,"color":"#666"},{"offset":0.6583,"color":"#fff"},{"offset":0.6667,"color":"#666"},{"offset":0.675,"color":"#fff"},{"offset":0.6833,"color":"#666"},{"offset":0.6917,"color":"#fff"},
{"offset":0.7,"color":"#666"},{"offset":0.7083,"color":"#fff"},{"offset":0.7167,"color":"#666"},{"offset":0.725,"color":"#fff"},{"offset":0.7333,"color":"#666"},{"offset":0.7417,"color":"#fff"},{"offset":0.75,"color":"#666"},{"offset":0.7583,"color":"#fff"},{"offset":0.7667,"color":"#666"},{"offset":0.775,"color":"#fff"},{"offset":0.7833,"color":"#666"},{"offset":0.7917,"color":"#fff"},
{"offset":0.8,"color":"#666"},{"offset":0.8083,"color":"#fff"},{"offset":0.8167,"color":"#666"},{"offset":0.825,"color":"#fff"},{"offset":0.8333,"color":"#666"},{"offset":0.8417,"color":"#fff"},{"offset":0.85,"color":"#666"},{"offset":0.8583,"color":"#fff"},{"offset":0.8667,"color":"#666"},{"offset":0.875,"color":"#fff"},{"offset":0.8833,"color":"#666"},{"offset":0.8917,"color":"#fff"},
{"offset":0.9,"color":"#666"},{"offset":0.9083,"color":"#fff"},{"offset":0.9167,"color":"#666"},{"offset":0.925,"color":"#fff"},{"offset":0.9333,"color":"#666"},{"offset":0.9417,"color":"#fff"},{"offset":0.95,"color":"#666"},{"offset":0.9583,"color":"#fff"},{"offset":0.9667,"color":"#666"},{"offset":0.975,"color":"#fff"},{"offset":0.9833,"color":"#666"},{"offset":0.9917,"color":"#fff"},
{"offset":1,"color":"#666"}]}},
 "encoding":{"x":{"field":"x","type":"quantitative","scale":{"domain":[-0.8,0.8],"range":[594.1,1040.5],"nice":false,"zero":false},"axis":null},
 "y":{"field":"H","type":"quantitative","scale":{"domain":[0,10],"range":[358.5,58.5],"nice":false,"zero":false},"axis":null},"y2":{"datum":0}}},
{"data":{"name":"R"},"transform":[{"filter":"datum.x >= -0.51 && datum.x <= 0.01"}],"mark":{"type":"area","interpolate":"monotone","color":{"gradient":"linear","x1":0,"y1":1,"x2":1.15,"y2":0.23,"stops":[
{"offset":0,"color":"rgba(40,40,40,0.8)"},{"offset":0.02,"color":"rgba(40,40,40,0)"},{"offset":0.04,"color":"rgba(40,40,40,0.8)"},{"offset":0.06,"color":"rgba(40,40,40,0)"},{"offset":0.08,"color":"rgba(40,40,40,0.8)"},{"offset":0.1,"color":"rgba(40,40,40,0)"},{"offset":0.12,"color":"rgba(40,40,40,0.8)"},{"offset":0.14,"color":"rgba(40,40,40,0)"},{"offset":0.16,"color":"rgba(40,40,40,0.8)"},{"offset":0.18,"color":"rgba(40,40,40,0)"},
{"offset":0.2,"color":"rgba(40,40,40,0.8)"},{"offset":0.22,"color":"rgba(40,40,40,0)"},{"offset":0.24,"color":"rgba(40,40,40,0.8)"},{"offset":0.26,"color":"rgba(40,40,40,0)"},{"offset":0.28,"color":"rgba(40,40,40,0.8)"},{"offset":0.3,"color":"rgba(40,40,40,0)"},{"offset":0.32,"color":"rgba(40,40,40,0.8)"},{"offset":0.34,"color":"rgba(40,40,40,0)"},{"offset":0.36,"color":"rgba(40,40,40,0.8)"},{"offset":0.38,"color":"rgba(40,40,40,0)"},
{"offset":0.4,"color":"rgba(40,40,40,0.8)"},{"offset":0.42,"color":"rgba(40,40,40,0)"},{"offset":0.44,"color":"rgba(40,40,40,0.8)"},{"offset":0.46,"color":"rgba(40,40,40,0)"},{"offset":0.48,"color":"rgba(40,40,40,0.8)"},{"offset":0.5,"color":"rgba(40,40,40,0)"},{"offset":0.52,"color":"rgba(40,40,40,0.8)"},{"offset":0.54,"color":"rgba(40,40,40,0)"},{"offset":0.56,"color":"rgba(40,40,40,0.8)"},{"offset":0.58,"color":"rgba(40,40,40,0)"},
{"offset":0.6,"color":"rgba(40,40,40,0.8)"},{"offset":0.62,"color":"rgba(40,40,40,0)"},{"offset":0.64,"color":"rgba(40,40,40,0.8)"},{"offset":0.66,"color":"rgba(40,40,40,0)"},{"offset":0.68,"color":"rgba(40,40,40,0.8)"},{"offset":0.7,"color":"rgba(40,40,40,0)"},{"offset":0.72,"color":"rgba(40,40,40,0.8)"},{"offset":0.74,"color":"rgba(40,40,40,0)"},{"offset":0.76,"color":"rgba(40,40,40,0.8)"},{"offset":0.78,"color":"rgba(40,40,40,0)"},
{"offset":0.8,"color":"rgba(40,40,40,0.8)"},{"offset":0.82,"color":"rgba(40,40,40,0)"},{"offset":0.84,"color":"rgba(40,40,40,0.8)"},{"offset":0.86,"color":"rgba(40,40,40,0)"},{"offset":0.88,"color":"rgba(40,40,40,0.8)"},{"offset":0.9,"color":"rgba(40,40,40,0)"},{"offset":0.92,"color":"rgba(40,40,40,0.8)"},{"offset":0.94,"color":"rgba(40,40,40,0)"},{"offset":0.96,"color":"rgba(40,40,40,0.8)"},{"offset":0.98,"color":"rgba(40,40,40,0)"},
{"offset":1,"color":"rgba(40,40,40,0.8)"}]}},
 "encoding":{"x":{"field":"x","type":"quantitative","scale":{"domain":[-0.8,0.8],"range":[594.1,1040.5],"nice":false,"zero":false},"axis":null},
 "y":{"field":"CUt","type":"quantitative","scale":{"domain":[0,10],"range":[358.5,58.5],"nice":false,"zero":false},"axis":null},"y2":{"field":"CUb"}}},
{"data":{"name":"R"},"transform":[{"filter":"datum.x >= -0.61 && datum.x <= 0.01"}],"mark":{"type":"area","interpolate":"monotone","color":{"gradient":"linear","x1":0,"y1":1,"x2":1.2,"y2":0.45,"stops":[
{"offset":0,"color":"rgba(40,40,40,0.8)"},{"offset":0.02,"color":"rgba(40,40,40,0)"},{"offset":0.04,"color":"rgba(40,40,40,0.8)"},{"offset":0.06,"color":"rgba(40,40,40,0)"},{"offset":0.08,"color":"rgba(40,40,40,0.8)"},{"offset":0.1,"color":"rgba(40,40,40,0)"},{"offset":0.12,"color":"rgba(40,40,40,0.8)"},{"offset":0.14,"color":"rgba(40,40,40,0)"},{"offset":0.16,"color":"rgba(40,40,40,0.8)"},{"offset":0.18,"color":"rgba(40,40,40,0)"},
{"offset":0.2,"color":"rgba(40,40,40,0.8)"},{"offset":0.22,"color":"rgba(40,40,40,0)"},{"offset":0.24,"color":"rgba(40,40,40,0.8)"},{"offset":0.26,"color":"rgba(40,40,40,0)"},{"offset":0.28,"color":"rgba(40,40,40,0.8)"},{"offset":0.3,"color":"rgba(40,40,40,0)"},{"offset":0.32,"color":"rgba(40,40,40,0.8)"},{"offset":0.34,"color":"rgba(40,40,40,0)"},{"offset":0.36,"color":"rgba(40,40,40,0.8)"},{"offset":0.38,"color":"rgba(40,40,40,0)"},
{"offset":0.4,"color":"rgba(40,40,40,0.8)"},{"offset":0.42,"color":"rgba(40,40,40,0)"},{"offset":0.44,"color":"rgba(40,40,40,0.8)"},{"offset":0.46,"color":"rgba(40,40,40,0)"},{"offset":0.48,"color":"rgba(40,40,40,0.8)"},{"offset":0.5,"color":"rgba(40,40,40,0)"},{"offset":0.52,"color":"rgba(40,40,40,0.8)"},{"offset":0.54,"color":"rgba(40,40,40,0)"},{"offset":0.56,"color":"rgba(40,40,40,0.8)"},{"offset":0.58,"color":"rgba(40,40,40,0)"},
{"offset":0.6,"color":"rgba(40,40,40,0.8)"},{"offset":0.62,"color":"rgba(40,40,40,0)"},{"offset":0.64,"color":"rgba(40,40,40,0.8)"},{"offset":0.66,"color":"rgba(40,40,40,0)"},{"offset":0.68,"color":"rgba(40,40,40,0.8)"},{"offset":0.7,"color":"rgba(40,40,40,0)"},{"offset":0.72,"color":"rgba(40,40,40,0.8)"},{"offset":0.74,"color":"rgba(40,40,40,0)"},{"offset":0.76,"color":"rgba(40,40,40,0.8)"},{"offset":0.78,"color":"rgba(40,40,40,0)"},
{"offset":0.8,"color":"rgba(40,40,40,0.8)"},{"offset":0.82,"color":"rgba(40,40,40,0)"},{"offset":0.84,"color":"rgba(40,40,40,0.8)"},{"offset":0.86,"color":"rgba(40,40,40,0)"},{"offset":0.88,"color":"rgba(40,40,40,0.8)"},{"offset":0.9,"color":"rgba(40,40,40,0)"},{"offset":0.92,"color":"rgba(40,40,40,0.8)"},{"offset":0.94,"color":"rgba(40,40,40,0)"},{"offset":0.96,"color":"rgba(40,40,40,0.8)"},{"offset":0.98,"color":"rgba(40,40,40,0)"},
{"offset":1,"color":"rgba(40,40,40,0.8)"}]}},
 "encoding":{"x":{"field":"x","type":"quantitative","scale":{"domain":[-0.8,0.8],"range":[594.1,1040.5],"nice":false,"zero":false},"axis":null},
 "y":{"field":"LCt","type":"quantitative","scale":{"domain":[0,10],"range":[358.5,58.5],"nice":false,"zero":false},"axis":null},"y2":{"field":"LCb"}}},
{"data":{"name":"R"},"transform":[{"fold":["T","A6","H","CUt","LCt","M"],"as":["curve","u"]}],"mark":{"type":"line","interpolate":"monotone","color":"black","strokeWidth":2.8,"strokeJoin":"round"},
 "encoding":{"x":{"field":"x","type":"quantitative","scale":{"domain":[-0.8,0.8],"range":[594.1,1040.5],"nice":false,"zero":false},"axis":null},
 "y":{"field":"u","type":"quantitative","scale":{"domain":[0,10],"range":[358.5,58.5],"nice":false,"zero":false},"axis":null},"detail":{"field":"curve"}}},
{"data":{"name":"R"},"transform":[{"fold":["A2","A3","A4","A5","CUb","LCb"],"as":["curve","u"]}],"mark":{"type":"line","interpolate":"monotone","color":"black","strokeWidth":2.1,"strokeJoin":"round"},
 "encoding":{"x":{"field":"x","type":"quantitative","scale":{"domain":[-0.8,0.8],"range":[594.1,1040.5],"nice":false,"zero":false},"axis":null},
 "y":{"field":"u","type":"quantitative","scale":{"domain":[0,10],"range":[358.5,58.5],"nice":false,"zero":false},"axis":null},"detail":{"field":"curve"}}},
{"data":{"values":[{"x":-0.8,"x2":0.8,"y":0}]},"mark":{"type":"rule","color":"black","strokeWidth":3.5},
 "encoding":{"x":{"field":"x","type":"quantitative","scale":{"domain":[-0.8,0.8],"range":[594.1,1040.5],"nice":false,"zero":false},"axis":null},"x2":{"field":"x2"},
 "y":{"field":"y","type":"quantitative","scale":{"domain":[0,10],"range":[358.5,58.5],"nice":false,"zero":false},"axis":null}}},
{"data":{"name":"TK"},"mark":{"type":"rule","color":"black","strokeWidth":1.4},
 "encoding":{"x":{"field":"x","type":"quantitative","scale":{"domain":[-0.8,0.8],"range":[594.1,1040.5],"nice":false,"zero":false},"axis":null},
 "y":{"datum":-0.633,"type":"quantitative","scale":{"domain":[0,10],"range":[358.5,58.5],"nice":false,"zero":false},"axis":null},"y2":{"datum":-0.12}}},
{"data":{"values":[{"x":0,"y":5.45,"y2":10.35}]},"mark":{"type":"rule","color":"black","strokeWidth":1.4},
 "encoding":{"x":{"field":"x","type":"quantitative","scale":{"domain":[-0.8,0.8],"range":[594.1,1040.5],"nice":false,"zero":false},"axis":null},
 "y":{"field":"y","type":"quantitative","scale":{"domain":[0,10],"range":[358.5,58.5],"nice":false,"zero":false},"axis":null},"y2":{"field":"y2"}}},
{"data":{"name":"RM"},"mark":{"type":"tick","orient":"vertical","size":10,"thickness":1.6,"color":"black","opacity":1},
 "encoding":{"x":{"field":"x","type":"quantitative","scale":{"domain":[-0.8,0.8],"range":[594.1,1040.5],"nice":false,"zero":false},"axis":null},
 "y":{"field":"u","type":"quantitative","scale":{"domain":[0,10],"range":[358.5,58.5],"nice":false,"zero":false},"axis":null}}},
{"data":{"values":[{"x":-0.234},{"x":0.233}]},"mark":{"type":"rule","color":"black","strokeWidth":1.5},
 "encoding":{"x":{"field":"x","type":"quantitative","scale":{"domain":[-0.8,0.8],"range":[594.1,1040.5],"nice":false,"zero":false},"axis":null},
 "y":{"datum":8.6,"type":"quantitative","scale":{"domain":[0,10],"range":[358.5,58.5],"nice":false,"zero":false},"axis":null},"y2":{"datum":10.02}}},
{"data":{"values":[{"x":-0.234},{"x":0.233}]},"mark":{"type":"point","shape":"M-0.4,-1L0.4,-1L0,1Z","size":324,"filled":true,"color":"black","opacity":1,"strokeWidth":0},
 "encoding":{"x":{"field":"x","type":"quantitative","scale":{"domain":[-0.8,0.8],"range":[594.1,1040.5],"nice":false,"zero":false},"axis":null},
 "y":{"datum":8.52,"type":"quantitative","scale":{"domain":[0,10],"range":[358.5,58.5],"nice":false,"zero":false},"axis":null}}},
{"data":{"values":[{"x":-0.195,"x2":0.199},{"x":0.26,"x2":0.44}]},"mark":{"type":"rule","color":"black","strokeWidth":1.3},
 "encoding":{"x":{"field":"x","type":"quantitative","scale":{"domain":[-0.8,0.8],"range":[594.1,1040.5],"nice":false,"zero":false},"axis":null},"x2":{"field":"x2"},
 "y":{"datum":9.18,"type":"quantitative","scale":{"domain":[0,10],"range":[358.5,58.5],"nice":false,"zero":false},"axis":null}}},
{"data":{"values":[{"x":-0.17},{"x":0.296}]},"mark":{"type":"point","shape":"M1,-0.4L1,0.4L-1,0Z","size":260,"filled":true,"color":"black","opacity":1,"strokeWidth":0},
 "encoding":{"x":{"field":"x","type":"quantitative","scale":{"domain":[-0.8,0.8],"range":[594.1,1040.5],"nice":false,"zero":false},"axis":null},
 "y":{"datum":9.18,"type":"quantitative","scale":{"domain":[0,10],"range":[358.5,58.5],"nice":false,"zero":false},"axis":null}}},
{"data":{"name":"RLab"},"mark":{"type":"text","fontSize":14,"align":"center","baseline":"alphabetic"},
 "encoding":{"x":{"field":"x","type":"quantitative","scale":{"domain":[-0.8,0.8],"range":[594.1,1040.5],"nice":false,"zero":false},"axis":null},
 "y":{"datum":-1.25,"type":"quantitative","scale":{"domain":[0,10],"range":[358.5,58.5],"nice":false,"zero":false},"axis":null},"text":{"field":"d"}}},
{"data":{"name":"RLab"},"transform":[{"filter":"datum.s != ''"}],"mark":{"type":"text","fontSize":14,"align":"right","baseline":"alphabetic","dx":-12},
 "encoding":{"x":{"field":"x","type":"quantitative","scale":{"domain":[-0.8,0.8],"range":[594.1,1040.5],"nice":false,"zero":false},"axis":null},
 "y":{"datum":-1.25,"type":"quantitative","scale":{"domain":[0,10],"range":[358.5,58.5],"nice":false,"zero":false},"axis":null},"text":{"field":"s"}}},
{"data":{"values":[{"x":-0.091,"t":"(δ − δ"}]},"mark":{"type":"text","fontSize":16,"align":"right","baseline":"alphabetic"},
 "encoding":{"x":{"field":"x","type":"quantitative","scale":{"domain":[-0.8,0.8],"range":[594.1,1040.5],"nice":false,"zero":false},"axis":null},
 "y":{"datum":-1.98,"type":"quantitative","scale":{"domain":[0,10],"range":[358.5,58.5],"nice":false,"zero":false},"axis":null},"text":{"field":"t"}}},
{"data":{"values":[{"x":-0.091,"t":"E"}]},"mark":{"type":"text","fontSize":11,"align":"left","baseline":"alphabetic"},
 "encoding":{"x":{"field":"x","type":"quantitative","scale":{"domain":[-0.8,0.8],"range":[594.1,1040.5],"nice":false,"zero":false},"axis":null},
 "y":{"datum":-2.38,"type":"quantitative","scale":{"domain":[0,10],"range":[358.5,58.5],"nice":false,"zero":false},"axis":null},"text":{"field":"t"}}},
{"data":{"values":[{"x":-0.062,"t":") with  i = 5°15"}]},"mark":{"type":"text","fontSize":16,"align":"left","baseline":"alphabetic"},
 "encoding":{"x":{"field":"x","type":"quantitative","scale":{"domain":[-0.8,0.8],"range":[594.1,1040.5],"nice":false,"zero":false},"axis":null},
 "y":{"datum":-1.98,"type":"quantitative","scale":{"domain":[0,10],"range":[358.5,58.5],"nice":false,"zero":false},"axis":null},"text":{"field":"t"}}},
{"data":{"values":[{"x":0.68,"y":9.75,"t":"(a)"},{"x":0.321,"y":8.62,"t":"Upper and"},{"x":0.321,"y":8.05,"t":"lower limbs"}]},"mark":{"type":"text","fontSize":15,"align":"left","baseline":"middle"},
 "encoding":{"x":{"field":"x","type":"quantitative","scale":{"domain":[-0.8,0.8],"range":[594.1,1040.5],"nice":false,"zero":false},"axis":null},
 "y":{"field":"y","type":"quantitative","scale":{"domain":[0,10],"range":[358.5,58.5],"nice":false,"zero":false},"axis":null},"text":{"field":"t"}}},

{"data":{"values":[{"x":0,"x2":1,"y":0,"y2":1}]},"mark":{"type":"rect","fill":"white","stroke":"black","strokeWidth":1.6},
 "encoding":{"x":{"field":"x","type":"quantitative","scale":{"domain":[0,1],"range":[362,656],"nice":false,"zero":false},"axis":null},"x2":{"field":"x2"},
 "y":{"field":"y","type":"quantitative","scale":{"domain":[0,1],"range":[162,12],"nice":false,"zero":false},"axis":null},"y2":{"field":"y2"}}},
{"data":{"values":[{"x":0.014},{"x":0.207},{"x":0.973}]},"mark":{"type":"rule","color":"black","strokeWidth":1.3},
 "encoding":{"x":{"field":"x","type":"quantitative","scale":{"domain":[0,1],"range":[362,656],"nice":false,"zero":false},"axis":null},
 "y":{"datum":0,"type":"quantitative","scale":{"domain":[0,1],"range":[162,12],"nice":false,"zero":false},"axis":null},"y2":{"datum":-0.067}}},
{"data":{"name":"good"},"mark":{"type":"area","interpolate":"monotone","color":{"gradient":"linear","x1":0,"y1":0,"x2":1.185,"y2":0.326,"stops":[
{"offset":0,"color":"#666"},{"offset":0.025,"color":"#fff"},{"offset":0.05,"color":"#666"},{"offset":0.075,"color":"#fff"},{"offset":0.1,"color":"#666"},{"offset":0.125,"color":"#fff"},{"offset":0.15,"color":"#666"},{"offset":0.175,"color":"#fff"},{"offset":0.2,"color":"#666"},{"offset":0.225,"color":"#fff"},
{"offset":0.25,"color":"#666"},{"offset":0.275,"color":"#fff"},{"offset":0.3,"color":"#666"},{"offset":0.325,"color":"#fff"},{"offset":0.35,"color":"#666"},{"offset":0.375,"color":"#fff"},{"offset":0.4,"color":"#666"},{"offset":0.425,"color":"#fff"},{"offset":0.45,"color":"#666"},{"offset":0.475,"color":"#fff"},
{"offset":0.5,"color":"#666"},{"offset":0.525,"color":"#fff"},{"offset":0.55,"color":"#666"},{"offset":0.575,"color":"#fff"},{"offset":0.6,"color":"#666"},{"offset":0.625,"color":"#fff"},{"offset":0.65,"color":"#666"},{"offset":0.675,"color":"#fff"},{"offset":0.7,"color":"#666"},{"offset":0.725,"color":"#fff"},
{"offset":0.75,"color":"#666"},{"offset":0.775,"color":"#fff"},{"offset":0.8,"color":"#666"},{"offset":0.825,"color":"#fff"},{"offset":0.85,"color":"#666"},{"offset":0.875,"color":"#fff"},{"offset":0.9,"color":"#666"},{"offset":0.925,"color":"#fff"},{"offset":0.95,"color":"#666"},{"offset":0.975,"color":"#fff"},
{"offset":1,"color":"#666"}]}},
 "encoding":{"x":{"field":"x","type":"quantitative","scale":{"domain":[0,1],"range":[362,656],"nice":false,"zero":false},"axis":null},
 "y":{"field":"y","type":"quantitative","scale":{"domain":[0,1],"range":[162,12],"nice":false,"zero":false},"axis":null},"y2":{"datum":0.565}}},
{"data":{"name":"good"},"mark":{"type":"line","interpolate":"monotone","color":"black","strokeWidth":2.4},
 "encoding":{"x":{"field":"x","type":"quantitative","scale":{"domain":[0,1],"range":[362,656],"nice":false,"zero":false},"axis":null},
 "y":{"field":"y","type":"quantitative","scale":{"domain":[0,1],"range":[162,12],"nice":false,"zero":false},"axis":null}}},
{"data":{"name":"poor"},"mark":{"type":"line","interpolate":"monotone","color":"black","strokeWidth":2.2},
 "encoding":{"x":{"field":"x","type":"quantitative","scale":{"domain":[0,1],"range":[362,656],"nice":false,"zero":false},"axis":null},
 "y":{"field":"y","type":"quantitative","scale":{"domain":[0,1],"range":[162,12],"nice":false,"zero":false},"axis":null}}},
{"data":{"values":[{"x":0.017,"x2":0.582,"y":0.565},{"x":0.017,"x2":0.582,"y":0.191}]},"mark":{"type":"rule","color":"black","strokeWidth":2.2},
 "encoding":{"x":{"field":"x","type":"quantitative","scale":{"domain":[0,1],"range":[362,656],"nice":false,"zero":false},"axis":null},"x2":{"field":"x2"},
 "y":{"field":"y","type":"quantitative","scale":{"domain":[0,1],"range":[162,12],"nice":false,"zero":false},"axis":null}}},
{"data":{"values":[{"x":0.289,"y":0.71},{"x":0.292,"y":0.26}]},"mark":{"type":"tick","orient":"vertical","size":10,"thickness":1.6,"color":"black","opacity":1},
 "encoding":{"x":{"field":"x","type":"quantitative","scale":{"domain":[0,1],"range":[362,656],"nice":false,"zero":false},"axis":null},
 "y":{"field":"y","type":"quantitative","scale":{"domain":[0,1],"range":[162,12],"nice":false,"zero":false},"axis":null}}},
{"data":{"values":[{"x":0.66,"y":0.6,"t":"Good"},{"x":0.66,"y":0.233,"t":"Poor"}]},"mark":{"type":"text","fontSize":14,"align":"left","baseline":"middle"},
 "encoding":{"x":{"field":"x","type":"quantitative","scale":{"domain":[0,1],"range":[362,656],"nice":false,"zero":false},"axis":null},
 "y":{"field":"y","type":"quantitative","scale":{"domain":[0,1],"range":[162,12],"nice":false,"zero":false},"axis":null},"text":{"field":"t"}}}
]
}
